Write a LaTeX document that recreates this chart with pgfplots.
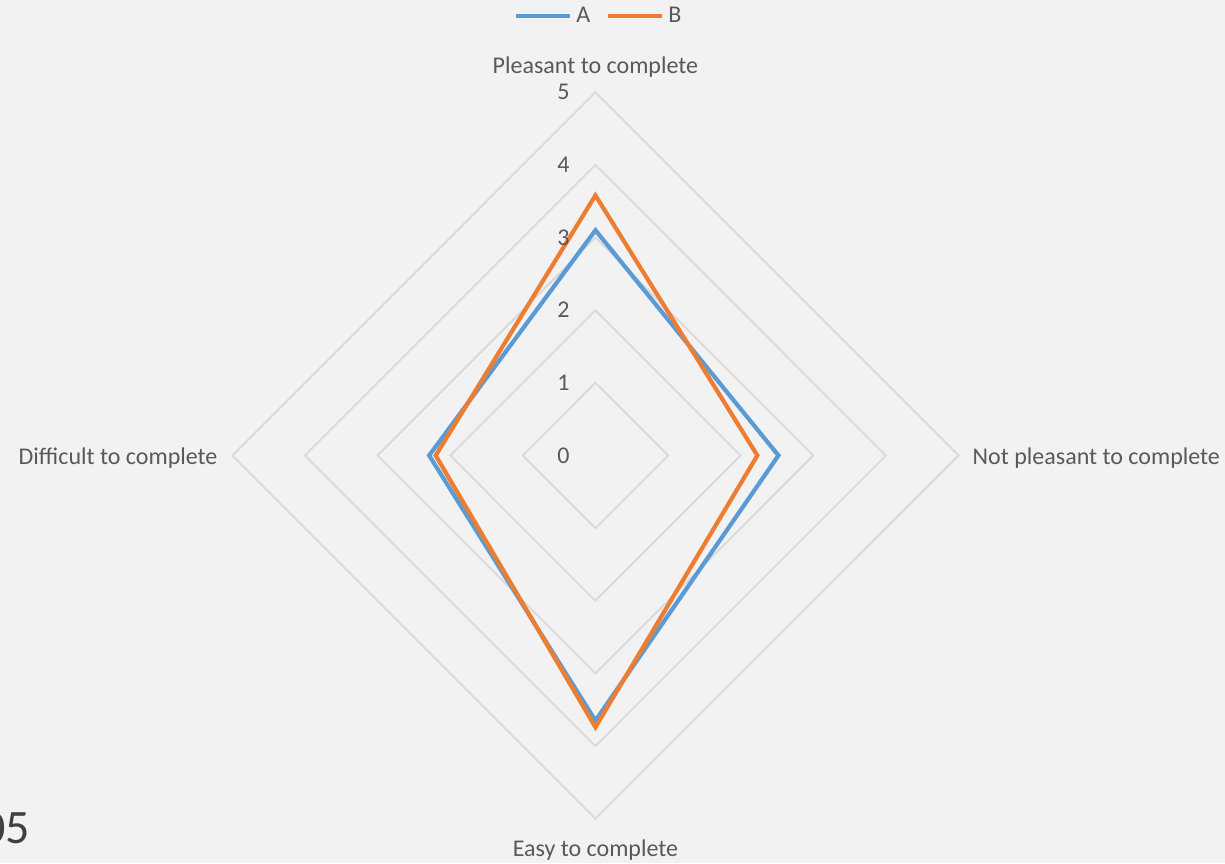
\documentclass[border=0pt]{standalone}
\usepackage{fontspec}
\setmainfont{Carlito}
\usepackage{pgfplots}
\pgfplotsset{compat=1.18}

\definecolor{bgc}{HTML}{F2F2F2}
\definecolor{gridc}{HTML}{D9D9D9}
\definecolor{txt}{HTML}{595959}
\definecolor{serA}{HTML}{5B9BD5}
\definecolor{serB}{HTML}{ED7D31}

\begin{document}
\begin{tikzpicture}
\begin{axis}[
    scale only axis,
    width=612.5pt, height=431.5pt,
    xmin=-8.20, xmax=8.67,
    ymin=-5.61, ymax=6.27,
    axis lines=none,
    axis background/.style={fill=bgc},
    clip=false,
    font=\fontsize{12}{14}\selectfont,
    legend columns=2,
    legend style={at={(axis cs:0.06,6.05)}, anchor=center, draw=none, fill=none,
                  inner sep=0pt, text=txt, font=\fontsize{12}{14}\selectfont,
                  /tikz/every even column/.append style={column sep=6pt}},
    legend image code/.code={\draw[#1] (0pt,0pt) -- (27pt,0pt);},
    grid line/.style={gridc, line width=0.9pt, line join=miter},
    series/.style={line width=2.1pt, line join=miter},
]
% grid diamonds
\addplot[grid line, forget plot] coordinates {(0,1) (1,0) (0,-1) (-1,0)} -- cycle;
\addplot[grid line, forget plot] coordinates {(0,2) (2,0) (0,-2) (-2,0)} -- cycle;
\addplot[grid line, forget plot] coordinates {(0,3) (3,0) (0,-3) (-3,0)} -- cycle;
\addplot[grid line, forget plot] coordinates {(0,4) (4,0) (0,-4) (-4,0)} -- cycle;
\addplot[grid line, forget plot] coordinates {(0,5) (5,0) (0,-5) (-5,0)} -- cycle;

% series: Pleasant (up), Not pleasant (right), Easy (down), Difficult (left)
\addplot[series, serA] coordinates {(0,3.1) (2.52,0) (0,-3.65) (-2.29,0)} -- cycle;
\addlegendentry{A}
\addplot[series, serB] coordinates {(0,3.58) (2.23,0) (0,-3.74) (-2.2,0)} -- cycle;
\addlegendentry{B}

% radial tick labels
\foreach \r in {0,1,2,3,4,5}{
  \edef\tmp{\noexpand\node[anchor=east, text=txt, inner sep=0pt] at (axis cs:-0.35,\r) {\r};}
  \tmp
}

% category labels
\node[text=txt, anchor=center, inner sep=0pt] at (axis cs:0,5.35) {Pleasant to complete};
\node[text=txt, anchor=west, inner sep=0pt] at (axis cs:5.19,-0.03) {Not pleasant to complete};
\node[text=txt, anchor=east, inner sep=0pt] at (axis cs:-5.20,-0.03) {Difficult to complete};
\node[text=txt, anchor=center, inner sep=0pt] at (axis cs:0,-5.43) {Easy to complete};

\node[overlay, text=black!75, anchor=base east, inner sep=0pt, font=\fontsize{24}{28}\selectfont]
  at (axis cs:-7.78,-5.34) {05};
\end{axis}
\end{tikzpicture}
\end{document}
